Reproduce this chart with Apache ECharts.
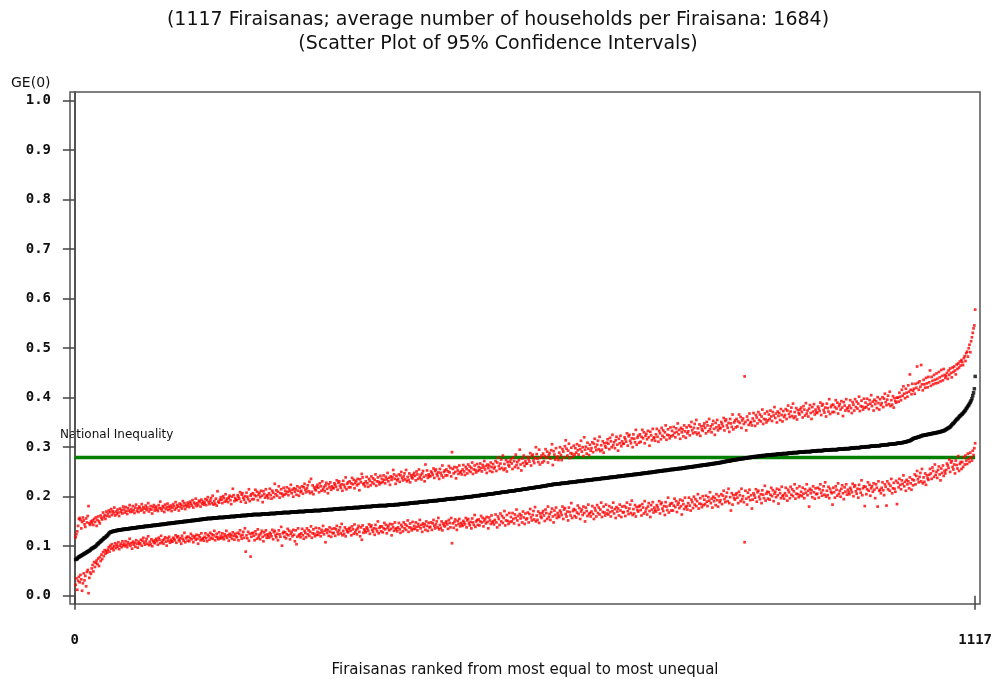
<!DOCTYPE html>
<html><head><meta charset="utf-8">
<script src="https://cdn.jsdelivr.net/npm/echarts@6/dist/echarts.min.js"></script>
<style>html,body{margin:0;padding:0;background:#fff}#c{width:996px;height:679px}</style>
</head><body><div id="c"></div>
<script>
const titleLines = ['(1117 Firaisanas; average number of households per Firaisana: 1684)', '(Scatter Plot of 95% Confidence Intervals)'];
const yAxisTitle = 'GE(0)';
const xAxisTitle = 'Firaisanas ranked from most equal to most unequal';
const refLineLabel = 'National Inequality';
const xTickValues = [0, 1117];
const yTickValues = [0, 0.1, 0.2, 0.3, 0.4, 0.5, 0.6, 0.7, 0.8, 0.9, 1.0];
const nationalInequality = 0.279;

// GE(0) estimates (x1000), Firaisanas ranked 1..1117
const median = [
73,74,75,77,78,79,80,81,82,83,84,85,86,87,88,89,90,91,92,94,
95,96,97,98,99,100,102,104,105,107,108,110,111,113,114,116,117,118,120,121,
123,125,127,128,129,129,130,130,131,131,131,132,132,132,133,133,133,133,134,134,
134,134,135,135,135,135,135,136,136,136,136,137,137,137,137,137,138,138,138,138,
139,139,139,139,139,140,140,140,140,140,141,141,141,141,141,142,142,142,142,142,
143,143,143,143,143,144,144,144,144,144,145,145,145,145,146,146,146,146,146,147,
147,147,147,147,148,148,148,148,148,149,149,149,149,149,150,150,150,150,150,151,
151,151,151,151,152,152,152,152,152,153,153,153,153,153,154,154,154,154,155,155,
155,155,155,156,156,156,156,156,156,156,157,157,157,157,157,157,157,158,158,158,
158,158,158,158,158,159,159,159,159,159,159,159,160,160,160,160,160,160,160,161,
161,161,161,161,161,161,162,162,162,162,162,162,162,163,163,163,163,163,163,163,
164,164,164,164,164,164,164,164,164,164,164,165,165,165,165,165,165,165,165,165,
165,166,166,166,166,166,166,166,166,167,167,167,167,167,167,167,167,168,168,168,
168,168,168,168,168,168,168,169,169,169,169,169,169,169,169,169,170,170,170,170,
170,170,170,170,170,171,171,171,171,171,171,171,171,171,171,172,172,172,172,172,
172,172,172,172,172,173,173,173,173,173,173,173,173,174,174,174,174,174,174,174,
175,175,175,175,175,175,175,175,176,176,176,176,176,176,176,176,177,177,177,177,
177,177,177,177,177,178,178,178,178,178,178,178,178,179,179,179,179,179,179,179,
180,180,180,180,180,180,180,180,181,181,181,181,181,181,181,181,182,182,182,182,
182,182,182,182,182,182,182,183,183,183,183,183,183,183,183,183,184,184,184,184,
184,184,185,185,185,185,185,185,186,186,186,186,186,186,187,187,187,187,187,187,
188,188,188,188,188,188,189,189,189,189,189,189,190,190,190,190,190,190,191,191,
191,191,191,191,192,192,192,192,192,192,193,193,193,193,193,193,194,194,194,194,
195,195,195,195,195,195,196,196,196,196,196,196,197,197,197,197,197,197,198,198,
198,198,198,199,199,199,199,199,200,200,200,200,200,201,201,201,201,202,202,202,
202,202,203,203,203,203,204,204,204,204,204,205,205,205,205,205,206,206,206,206,
207,207,207,207,208,208,208,208,209,209,209,209,209,210,210,210,210,211,211,211,
211,211,212,212,212,212,213,213,213,213,214,214,214,214,215,215,215,215,216,216,
216,216,217,217,217,217,218,218,218,218,219,219,219,219,220,220,220,220,221,221,
221,221,222,222,222,223,223,223,224,224,224,224,225,225,225,225,226,226,226,226,
226,226,227,227,227,227,227,228,228,228,228,228,229,229,229,229,229,230,230,230,
230,230,231,231,231,231,231,232,232,232,232,232,233,233,233,233,233,234,234,234,
234,234,235,235,235,235,235,236,236,236,236,236,237,237,237,237,237,238,238,238,
238,238,239,239,239,239,239,240,240,240,240,240,241,241,241,241,241,242,242,242,
242,242,243,243,243,243,243,244,244,244,244,244,245,245,245,245,245,246,246,246,
246,246,247,247,247,247,248,248,248,248,248,249,249,249,249,249,250,250,250,250,
251,251,251,251,252,252,252,252,252,253,253,253,253,253,254,254,254,254,255,255,
255,255,255,256,256,256,256,256,257,257,257,257,257,258,258,258,258,259,259,259,
259,260,260,260,260,260,261,261,261,261,262,262,262,262,263,263,263,263,264,264,
264,264,264,265,265,265,265,266,266,266,266,267,267,267,267,268,268,268,268,269,
269,269,270,270,270,271,271,271,272,272,272,272,273,273,273,274,274,274,274,275,
275,275,276,276,276,276,277,277,277,277,278,278,278,278,279,279,279,279,280,280,
280,280,281,281,281,281,281,282,282,282,282,282,283,283,283,283,283,284,284,284,
284,284,284,284,285,285,285,285,285,285,286,286,286,286,286,286,286,287,287,287,
287,287,287,287,288,288,288,288,288,288,289,289,289,289,289,289,289,290,290,290,
290,290,290,290,290,291,291,291,291,291,291,291,291,292,292,292,292,292,292,292,
293,293,293,293,293,293,293,293,294,294,294,294,294,294,294,294,294,295,295,295,
295,295,295,295,295,295,296,296,296,296,296,296,296,296,297,297,297,297,297,297,
297,298,298,298,298,298,298,299,299,299,299,299,299,299,300,300,300,300,300,300,
301,301,301,301,301,301,302,302,302,302,302,302,302,303,303,303,303,303,303,304,
304,304,304,304,305,305,305,305,305,306,306,306,306,306,307,307,307,307,307,308,
308,308,308,309,309,309,309,310,310,310,311,311,312,312,313,313,314,315,316,317,
318,318,319,319,320,320,321,321,322,323,323,324,324,324,325,325,325,326,326,326,
327,327,327,328,328,328,329,329,329,330,330,330,331,331,332,332,333,333,334,335,
336,337,338,339,340,341,343,345,347,348,350,352,354,356,357,359,361,363,364,366,
367,369,371,373,375,378,380,383,385,388,391,394,398,404,410,418,443
];

// upper 95% confidence bound (x1000)
const upper = [
118,124,130,141,155,157,153,136,149,158,152,144,139,156,148,161,181,146,143,150,
147,152,143,155,149,158,141,153,160,150,146,162,157,154,168,159,163,155,170,161,
166,172,160,169,175,163,171,167,178,162,170,165,174,168,161,176,169,173,166,180,
174,168,179,171,165,177,172,183,169,175,170,181,173,167,178,184,171,176,169,180,
177,172,185,174,179,168,176,182,173,178,187,170,175,181,174,166,179,183,172,177,
180,174,171,183,177,190,176,172,181,178,169,184,175,179,186,173,180,176,182,171,
178,185,181,174,189,177,183,180,172,186,179,184,176,191,181,187,175,183,180,188,
184,179,190,186,182,193,178,188,185,196,181,187,183,192,189,180,194,186,190,184,
188,195,183,193,199,189,185,192,197,187,202,184,191,186,196,182,211,190,188,194,
199,194,187,201,197,190,205,192,196,189,198,202,193,185,200,216,203,191,197,194,
193,203,200,196,209,190,204,207,198,194,201,188,208,200,195,215,191,202,205,195,
207,195,203,214,201,210,193,204,208,199,212,202,189,211,205,198,215,201,203,197,
207,216,203,196,212,208,199,226,205,213,202,210,221,198,207,215,206,201,218,204,
212,206,219,210,203,216,211,224,207,214,200,217,210,215,204,221,212,202,218,209,
212,221,206,219,226,214,209,217,223,211,230,207,236,210,223,205,219,215,213,220,
224,218,209,227,221,212,231,215,220,211,223,228,216,207,225,219,229,214,221,218,
217,227,224,220,233,214,228,231,222,218,225,212,232,224,219,239,215,226,229,219,
231,219,227,238,225,234,217,228,232,223,236,226,213,235,229,246,239,225,227,221,
231,240,227,220,236,232,223,241,229,237,226,234,245,222,231,239,230,225,242,228,
236,230,243,234,227,240,235,248,231,238,224,241,234,239,254,245,236,226,242,233,
236,245,230,243,250,238,233,241,247,235,254,231,240,234,247,229,243,239,237,244,
248,242,233,251,245,236,255,239,244,235,247,252,240,231,265,243,253,238,245,242,
241,251,248,244,257,238,252,255,246,242,249,236,256,248,243,263,239,250,253,243,
255,243,251,262,249,258,241,290,256,247,260,250,237,259,253,246,263,249,251,245,
255,264,251,244,260,256,247,265,253,261,250,258,269,246,255,263,254,249,266,252,
260,254,267,258,251,264,259,272,255,262,248,265,258,263,252,269,260,250,266,257,
260,272,252,269,279,262,256,267,275,258,283,254,266,257,274,251,270,264,261,271,
276,267,256,279,272,260,285,264,270,258,274,295,265,253,277,268,283,262,272,267,
267,280,276,271,288,263,282,285,273,268,278,300,286,277,270,295,265,279,283,269,
287,272,282,296,279,291,269,284,288,277,294,306,264,292,285,275,298,279,281,274,
289,300,284,274,296,291,279,302,314,297,283,293,307,278,288,299,287,281,303,285,
298,289,306,294,285,303,296,313,291,300,282,320,295,301,287,309,297,284,305,293,
298,310,290,307,317,300,294,305,313,296,321,292,304,295,312,289,308,302,299,309,
316,307,296,319,312,300,325,304,310,298,314,321,305,293,317,308,323,302,312,307,
307,320,316,311,328,303,322,325,313,308,318,300,326,317,310,335,305,319,323,309,
326,311,321,335,318,330,308,323,327,316,333,320,303,331,324,314,337,318,320,313,
326,337,321,311,333,328,316,339,323,334,320,330,344,315,325,336,324,318,340,322,
333,324,341,329,320,338,331,348,326,335,317,339,330,336,322,344,332,319,340,328,
332,344,324,341,351,334,328,339,347,330,355,326,338,329,346,323,342,336,333,343,
348,339,328,351,344,332,357,336,342,330,346,353,337,325,349,340,355,334,344,339,
338,351,347,342,359,334,353,356,344,339,349,331,357,348,341,366,336,350,354,340,
357,342,352,366,349,361,339,354,358,347,443,351,334,362,355,345,368,349,351,344,
358,369,353,343,365,360,348,371,355,366,352,362,376,347,357,368,356,350,372,354,
366,357,374,362,353,371,364,381,359,368,350,372,363,369,355,377,365,352,373,361,
365,377,357,374,384,367,361,372,380,363,388,359,371,362,379,356,375,369,366,376,
380,371,360,383,376,364,389,368,374,362,378,385,369,357,381,372,387,366,376,371,
369,382,378,373,390,365,384,387,375,370,380,362,388,379,372,397,367,381,385,371,
386,371,381,395,378,390,368,383,387,376,393,380,363,391,384,374,397,378,380,373,
384,395,379,369,391,386,374,397,381,392,378,388,402,373,383,394,382,376,398,380,
390,381,398,386,377,395,388,405,383,392,374,396,387,393,379,401,389,376,397,385,
389,401,381,398,408,391,385,396,404,387,412,383,395,386,403,380,399,393,390,400,
400,392,410,402,395,416,404,423,408,399,418,410,402,425,412,447,416,407,428,414,
418,408,428,420,463,430,416,433,422,466,427,415,436,427,420,440,429,421,442,431,
455,424,442,434,427,446,436,429,449,438,430,452,441,433,456,444,435,458,446,440,
444,450,438,455,446,459,450,441,461,452,463,455,447,467,458,469,461,473,465,476,
472,466,480,484,474,490,493,483,500,507,492,514,522,531,540,546,578
];

// lower 95% confidence bound (x1000)
const lower = [
22,35,12,30,38,27,42,33,10,25,45,31,40,19,48,52,5,36,47,44,
55,62,49,68,58,66,71,64,75,60,78,70,83,74,88,80,92,85,90,87,
93,98,89,101,95,104,97,92,100,106,96,103,99,108,94,101,105,98,110,102,
105,100,110,103,98,108,104,115,101,106,95,109,103,107,99,112,105,97,109,104,
106,113,101,111,117,107,103,110,115,105,120,102,109,104,114,100,111,108,106,112,
115,110,103,117,113,106,121,108,112,105,114,118,109,101,116,111,119,107,113,110,
109,117,115,112,122,107,118,120,113,110,116,105,121,115,111,127,108,116,119,111,
119,110,116,125,114,121,108,117,120,113,123,115,105,122,118,112,126,114,116,111,
119,126,116,110,123,120,113,127,117,124,115,122,131,112,119,125,118,114,128,116,
121,116,126,119,114,124,120,131,117,122,111,125,119,123,115,128,121,113,125,120,
118,127,112,125,132,120,115,123,129,117,136,89,122,116,129,111,125,79,119,126,
127,121,112,130,124,115,134,118,123,114,126,131,119,110,128,122,132,117,124,121,
117,127,124,120,133,114,128,131,122,118,125,112,132,124,119,139,101,126,129,119,
128,116,124,135,122,131,114,125,129,120,133,123,110,132,104,119,136,122,124,118,
126,135,122,115,131,127,118,136,124,132,121,129,140,117,126,134,125,120,137,123,
129,123,136,127,120,133,128,141,124,131,108,134,127,132,121,138,129,119,135,126,
127,136,121,134,141,129,124,132,138,126,145,122,131,125,138,120,134,130,128,135,
137,131,122,140,134,125,144,128,133,124,136,141,129,120,138,113,142,127,134,131,
128,138,135,131,144,125,139,142,133,129,136,123,143,135,130,150,126,137,140,130,
140,128,136,147,134,143,126,137,141,132,145,135,122,144,138,131,148,134,136,130,
138,147,134,127,143,139,130,148,136,144,133,141,152,129,138,146,137,132,149,135,
141,135,148,139,132,145,140,153,136,143,129,146,139,144,133,150,141,131,147,138,
139,148,133,146,153,141,136,144,150,138,157,134,143,137,150,132,146,142,140,147,
150,144,135,153,147,138,157,106,146,137,149,154,142,133,151,145,155,140,147,144,
141,151,148,144,157,138,152,155,146,142,149,136,156,148,143,163,139,150,153,143,
154,142,150,161,148,157,140,151,155,146,159,149,136,158,152,145,162,148,150,144,
153,164,148,138,160,155,143,166,150,161,147,157,171,142,152,163,151,145,167,149,
159,150,167,155,146,164,157,174,152,161,143,165,156,162,148,170,158,145,166,154,
156,168,148,165,175,158,152,163,171,154,179,150,162,153,170,147,166,160,157,167,
171,162,151,174,167,155,180,159,165,153,169,176,160,148,172,163,178,157,167,162,
159,172,168,163,180,155,174,177,165,160,170,152,178,169,162,187,157,171,175,161,
173,158,168,182,165,177,155,170,174,163,180,167,150,178,171,161,184,165,167,160,
170,181,165,155,177,172,160,183,167,178,164,174,188,159,169,180,168,162,184,166,
173,164,181,169,160,178,171,188,166,175,157,179,170,176,162,184,172,159,180,168,
169,181,161,178,188,171,165,176,184,167,192,163,175,166,183,160,179,173,170,180,
182,173,162,185,178,166,191,170,176,164,180,187,171,159,183,174,189,168,178,173,
170,183,179,174,191,166,185,188,176,171,181,163,189,180,173,198,168,182,186,172,
187,172,182,196,179,191,169,184,188,177,194,181,164,192,185,175,198,179,181,174,
187,198,182,172,194,189,177,200,184,195,181,191,205,176,186,197,185,179,201,183,
194,185,202,190,181,199,192,209,187,196,178,200,191,197,183,205,193,180,201,189,
193,205,185,202,212,195,189,200,208,191,216,187,199,172,207,184,203,197,194,204,
207,198,187,210,203,191,216,195,201,189,108,212,196,184,208,199,214,193,203,176,
194,207,203,198,215,190,209,212,200,195,205,187,213,204,197,222,192,206,210,196,
209,194,204,218,201,213,191,206,210,199,216,203,186,214,207,197,220,201,203,196,
207,218,202,192,214,209,197,220,204,215,201,211,225,196,206,217,205,199,221,203,
210,201,218,206,197,215,208,225,203,212,180,216,207,213,199,221,209,196,217,205,
206,218,198,215,225,208,202,213,221,204,229,200,212,203,220,197,216,210,207,184,
218,209,198,221,214,202,227,206,212,200,216,223,207,195,219,210,225,204,214,209,
205,218,214,209,226,201,220,223,211,206,216,198,224,215,208,233,203,217,221,181,
220,205,215,229,212,224,202,217,221,210,227,214,197,225,218,180,231,212,214,207,
218,229,213,203,225,220,182,231,215,226,212,222,236,207,217,228,216,210,232,185,
228,219,236,224,215,233,226,243,221,230,212,234,225,231,217,239,227,214,235,223,
233,245,225,242,252,235,229,240,248,231,256,227,239,230,247,224,243,237,234,244,
256,247,236,259,252,240,265,244,250,238,254,261,245,233,257,248,263,242,252,247,
254,267,263,258,275,250,269,272,260,255,265,247,273,264,257,282,252,266,270,256,
270,260,280,265,283,273,266,287,276,270,289,279,273,293,284,298,308
];

const toPoints = arr => arr.map((v, i) => [i + 1, v / 1000]);

const chart = echarts.init(document.getElementById('c'), null, {renderer: 'canvas'});
const monoBold = {fontFamily: 'DejaVu Sans Mono', fontWeight: 'bold', fontSize: 14, color: '#111'};

chart.setOption({
  animation: false,
  backgroundColor: '#fff',
  title: {
    text: titleLines.join('\n'),
    left: 'center', top: 3,
    textStyle: {fontFamily: 'DejaVu Sans', fontWeight: 'normal', fontSize: 19, lineHeight: 24, color: '#111'}
  },
  grid: {left: 70, right: 16, top: 92, bottom: 75, outerBoundsMode: 'none', containLabel: false,
         show: true, borderColor: '#555', borderWidth: 1.5, backgroundColor: 'transparent'},
  xAxis: {
    type: 'value', min: -6, max: 1123, offset: 2,
    name: xAxisTitle, nameLocation: 'middle', nameGap: 57,
    nameTextStyle: {fontFamily: 'DejaVu Sans', fontSize: 15, color: '#111'},
    axisLine: {show: false},
    axisTick: {show: true, length: 14, customValues: xTickValues, lineStyle: {color: '#444', width: 1.5}},
    axisLabel: {customValues: xTickValues, margin: 27, ...monoBold, formatter: v => String(v)},
    splitLine: {show: false}
  },
  yAxis: {
    type: 'value', min: -0.0168, max: 1.0176,
    axisLine: {show: true, lineStyle: {color: '#555', width: 2}},
    axisTick: {show: true, length: 12, customValues: yTickValues, lineStyle: {color: '#444', width: 1.5}},
    axisLabel: {customValues: yTickValues, margin: 19, ...monoBold, formatter: v => v.toFixed(1)},
    splitLine: {show: false}
  },
  graphic: [
    {type: 'text', left: 11, top: 76, style: {text: yAxisTitle, font: '14px "DejaVu Sans"', fill: '#111'}},
    {type: 'text', left: 60, top: 429, style: {text: refLineLabel, font: '12px "DejaVu Sans"', fill: '#111'}}
  ],
  series: [
    {type: 'line', data: [[0, nationalInequality], [1117, nationalInequality]], symbol: 'none', silent: true,
     lineStyle: {color: '#008000', width: 3.5}, z: 1},
    {type: 'scatter', data: toPoints(upper), symbol: 'rect', symbolSize: 2.7, itemStyle: {color: '#ff0000'}, silent: true, z: 2},
    {type: 'scatter', data: toPoints(lower), symbol: 'rect', symbolSize: 2.7, itemStyle: {color: '#ff0000'}, silent: true, z: 2},
    {type: 'scatter', data: toPoints(median), symbol: 'rect', symbolSize: 3.5, itemStyle: {color: '#000'}, silent: true, z: 3}
  ]
});
</script>
</body></html>
